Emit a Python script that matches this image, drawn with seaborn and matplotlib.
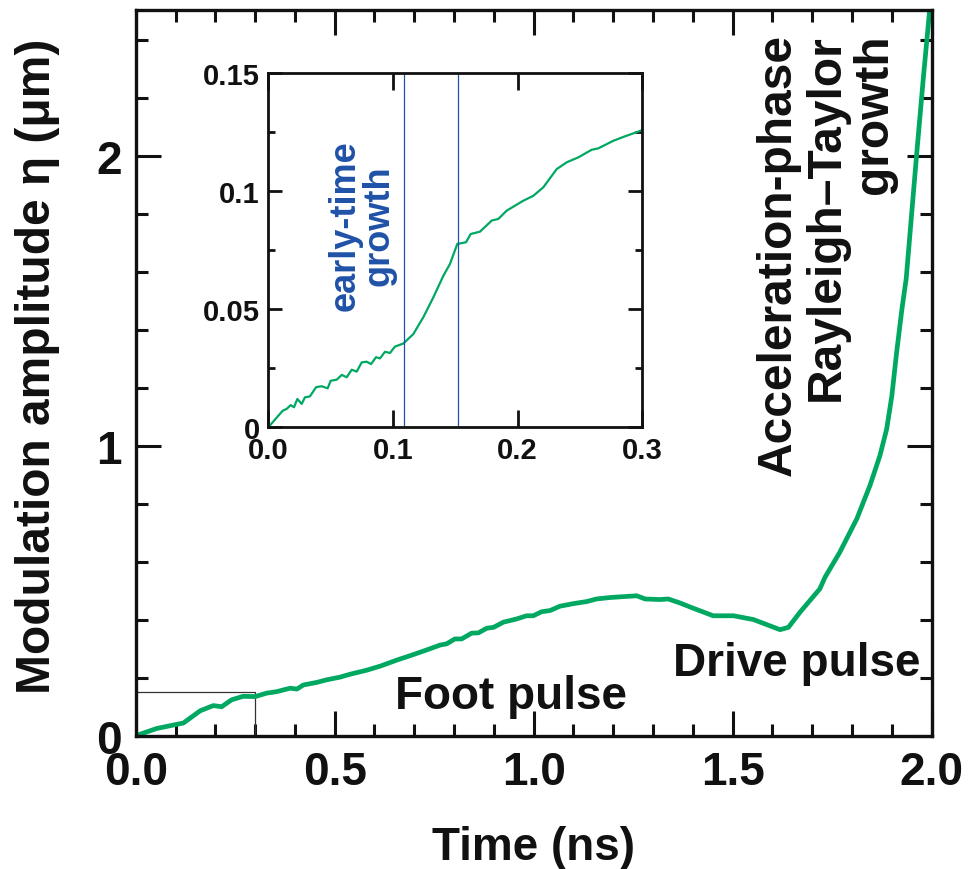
import numpy as np
import pandas as pd
import matplotlib
matplotlib.use("Agg")
import matplotlib.pyplot as plt
from matplotlib.ticker import MultipleLocator, FuncFormatter
from matplotlib.patches import Rectangle
import seaborn as sns

# Modulation amplitude over the full pulse (ns, um)
t_main = [0.0, 0.053, 0.12, 0.162, 0.195, 0.216, 0.241, 0.27, 0.30, 0.329,
          0.354, 0.388, 0.405, 0.421, 0.455, 0.48, 0.513, 0.538, 0.58, 0.614,
          0.656, 0.689, 0.731, 0.765, 0.781, 0.802, 0.819, 0.844, 0.861, 0.882,
          0.899, 0.924, 0.957, 0.982, 0.999, 1.02, 1.041, 1.066, 1.10, 1.133,
          1.158, 1.192, 1.225, 1.259, 1.28, 1.317, 1.338, 1.368, 1.401, 1.451,
          1.502, 1.552, 1.619, 1.64, 1.669, 1.719, 1.732, 1.769, 1.812, 1.845,
          1.87, 1.887, 1.90, 1.912, 1.925, 1.936, 1.962, 1.979, 2.0]
eta_main = [0.0, 0.025, 0.044, 0.086, 0.104, 0.10, 0.124, 0.136, 0.135, 0.147,
            0.152, 0.164, 0.161, 0.175, 0.184, 0.193, 0.202, 0.212, 0.226, 0.24,
            0.261, 0.276, 0.296, 0.313, 0.317, 0.334, 0.334, 0.354, 0.355, 0.371,
            0.374, 0.392, 0.403, 0.414, 0.414, 0.428, 0.432, 0.447, 0.456, 0.463,
            0.472, 0.477, 0.48, 0.483, 0.472, 0.47, 0.472, 0.458, 0.44, 0.414,
            0.414, 0.401, 0.366, 0.374, 0.426, 0.507, 0.547, 0.633, 0.749, 0.864,
            0.967, 1.059, 1.174, 1.324, 1.47, 1.578, 2.003, 2.27, 2.58]

# Early-time detail (first 0.3 ns)
t_inset = [0.0, 0.0115, 0.0147, 0.018, 0.0206, 0.0233, 0.0268, 0.0294, 0.0334,
           0.0383, 0.0428, 0.0476, 0.050, 0.0549, 0.0589, 0.0629, 0.0669, 0.0709,
           0.0749, 0.0789, 0.0824, 0.0864, 0.0896, 0.0936, 0.0976, 0.1016,
           0.1083, 0.1163, 0.1243, 0.1324, 0.1404, 0.1457, 0.1516, 0.1586,
           0.1623, 0.1698, 0.1792, 0.1845, 0.1912, 0.2045, 0.2126, 0.2206,
           0.2313, 0.2394, 0.2487, 0.2594, 0.2647, 0.2767, 0.2861, 0.2968, 0.3]
eta_inset = [0.0, 0.007, 0.0078, 0.0094, 0.0085, 0.012, 0.0099, 0.0127, 0.0131,
             0.017, 0.0174, 0.0165, 0.0197, 0.0202, 0.0222, 0.0212, 0.0244, 0.0236,
             0.0275, 0.0278, 0.0268, 0.0297, 0.0292, 0.032, 0.0315, 0.0342,
             0.0355, 0.0395, 0.0466, 0.0551, 0.0642, 0.0692, 0.0777, 0.0784,
             0.0819, 0.0829, 0.0876, 0.0883, 0.0918, 0.096, 0.0981, 0.1017,
             0.1094, 0.1123, 0.1144, 0.1176, 0.1182, 0.1214, 0.1233, 0.1253, 0.126]

early_bounds = [0.109, 0.152]
inset_xlim = (0.0, 0.3)
inset_ylim = (0.0, 0.15)

GREEN = "#00A862"
BLUE = "#1F52A8"
INK = "#111111"

sns.set_style("ticks")
plt.rcParams["font.family"] = ["Liberation Sans", "DejaVu Sans"]
plt.rcParams["font.weight"] = "bold"
plt.rcParams["axes.labelweight"] = "bold"

fig = plt.figure(figsize=(9.7, 8.7), dpi=100)
ax = fig.add_axes([0.1399, 0.1532, 0.8206, 0.8342])
axin = fig.add_axes([0.2766, 0.5077, 0.3856, 0.4069])

df_main = pd.DataFrame({"t": t_main, "eta": eta_main})
sns.lineplot(data=df_main, x="t", y="eta", ax=ax, color=GREEN, lw=3.4,
             sort=False, estimator=None, solid_joinstyle="round")

ax.set_xlim(0, 2.0)
ax.set_ylim(0, 2.505)
ax.xaxis.set_major_locator(MultipleLocator(0.5))
ax.xaxis.set_minor_locator(MultipleLocator(0.1))
ax.yaxis.set_major_locator(MultipleLocator(1))
ax.yaxis.set_minor_locator(MultipleLocator(0.2))
ax.xaxis.set_major_formatter(FuncFormatter(lambda v, p: f"{v:.1f}"))
ax.yaxis.set_major_formatter(FuncFormatter(lambda v, p: f"{v:g}"))
ax.tick_params(which="both", direction="in", top=True, right=True,
               width=2.2, color=INK)
ax.tick_params(which="major", length=18, labelsize=33, pad=10, labelcolor=INK)
ax.tick_params(which="minor", length=8.5)
for s in ax.spines.values():
    s.set_linewidth(2.4)
    s.set_color(INK)

ax.set_xlabel("Time (ns)", fontsize=33, color=INK, va="baseline")
ax.xaxis.set_label_coords(0.5, -0.17)
ax.set_ylabel("Modulation amplitude η (μm)", fontsize=34.5, color=INK, va="center")
ax.yaxis.set_label_coords(-0.124, 0.51)

# Box marking the region shown in the inset
ax.add_patch(Rectangle((inset_xlim[0], inset_ylim[0]),
                       inset_xlim[1] - inset_xlim[0], inset_ylim[1] - inset_ylim[0],
                       fill=False, lw=0.9, ec="#333333", zorder=1))

ax.text(0.943, 0.095, "Foot pulse", fontsize=33, ha="center", va="baseline", color=INK)
ax.text(1.66, 0.21, "Drive pulse", fontsize=33, ha="center", va="baseline", color=INK)
ax.text(1.735, 2.425, "Acceleration-phase\nRayleigh–Taylor\ngrowth", fontsize=34.5,
        rotation=90, ha="center", va="top", multialignment="right",
        linespacing=1.08, color=INK)

# Inset: early-time growth
df_in = pd.DataFrame({"t": t_inset, "eta": eta_inset})
sns.lineplot(data=df_in, x="t", y="eta", ax=axin, color=GREEN, lw=1.6,
             sort=False, estimator=None)
for xb in early_bounds:
    axin.axvline(xb, color=BLUE, lw=0.9)
axin.set_xlim(*inset_xlim)
axin.set_ylim(*inset_ylim)
axin.xaxis.set_major_locator(MultipleLocator(0.1))
axin.yaxis.set_major_locator(MultipleLocator(0.05))
axin.yaxis.set_minor_locator(MultipleLocator(0.025))
axin.xaxis.set_major_formatter(FuncFormatter(lambda v, p: f"{v:.1f}"))
axin.yaxis.set_major_formatter(FuncFormatter(lambda v, p: "0" if v == 0 else f"{v:g}"))
axin.tick_params(which="both", direction="in", top=True, right=True,
                 width=2.0, color=INK, labelsize=21, labelcolor=INK)
axin.tick_params(axis="x", which="major", length=12, pad=6)
axin.tick_params(axis="y", which="major", length=10, pad=6)
axin.tick_params(which="minor", length=5)
for s in axin.spines.values():
    s.set_linewidth(2.0)
    s.set_color(INK)
axin.set_xlabel("")
axin.set_ylabel("")
axin.text(0.0752, 0.0857, "early-time\ngrowth", fontsize=26, rotation=90,
          ha="center", va="center", multialignment="center",
          linespacing=0.95, color=BLUE)

fig.savefig("out.png", dpi=100)
